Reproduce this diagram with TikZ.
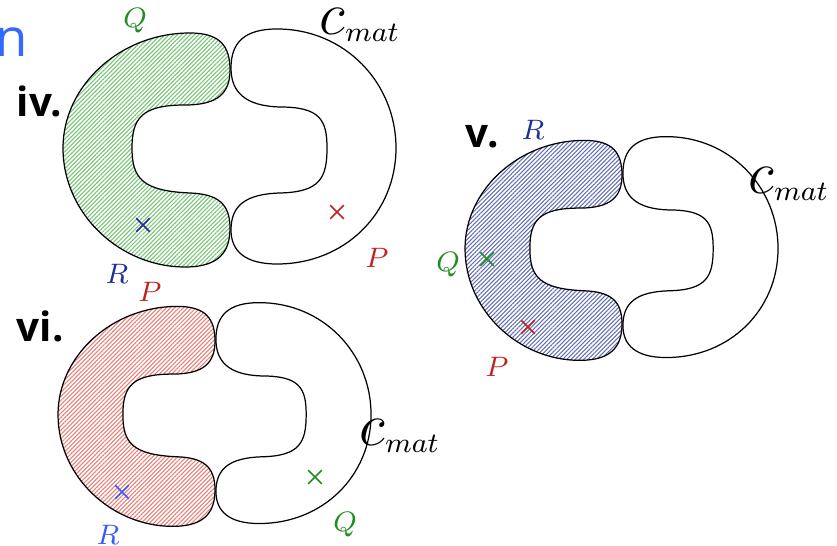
\documentclass[tikz,border=0pt]{standalone}
\usepackage{amsmath}
\usepackage{fontspec}
\usepackage{xcolor}
\usetikzlibrary{patterns.meta,shapes.misc}
\newfontfamily\labelfont{Open Sans}
\definecolor{cgreen}{RGB}{34,139,34}
\definecolor{cnavy}{RGB}{35,45,150}
\definecolor{cred}{RGB}{190,35,30}
\definecolor{cblue}{RGB}{60,90,250}
\definecolor{hgreen}{RGB}{115,195,115}
\definecolor{hnavy}{RGB}{100,110,180}
\definecolor{hred}{RGB}{232,125,115}
\definecolor{titleblue}{RGB}{50,105,255}
\newcommand{\cmat}{$\mbox{\fontsize{16}{18}\selectfont$c$}_{mat}$}
% left half of the ring, around the centre (0,0)
\newcommand{\leftlobe}{(0,0.78) .. controls (0,1.02) and (-0.1,1.15) .. (-0.4,1.15)
  .. controls (-1.1,1.15) and (-1.67,0.62) .. (-1.67,0)
  .. controls (-1.67,-0.66) and (-1.1,-1.19) .. (-0.45,-1.19)
  .. controls (-0.1,-1.19) and (0,-1.03) .. (0,-0.8)
  .. controls (0,-0.56) and (-0.12,-0.46) .. (-0.4,-0.45)
  .. controls (-0.88,-0.43) and (-0.98,-0.3) .. (-0.98,0)
  .. controls (-0.98,0.3) and (-0.88,0.43) .. (-0.45,0.43)
  .. controls (-0.12,0.43) and (0,0.55) .. (0,0.78) -- cycle}
% right half of the ring
\newcommand{\rightlobe}{(0.01,0.8) .. controls (0.01,1.06) and (0.15,1.19) .. (0.47,1.19)
  .. controls (1.15,1.19) and (1.66,0.65) .. (1.66,0)
  .. controls (1.66,-0.65) and (1.15,-1.16) .. (0.47,-1.16)
  .. controls (0.15,-1.16) and (0.01,-1.03) .. (0.01,-0.82)
  .. controls (0.01,-0.58) and (0.15,-0.46) .. (0.5,-0.45)
  .. controls (0.9,-0.44) and (0.97,-0.3) .. (0.97,0)
  .. controls (0.97,0.28) and (0.9,0.41) .. (0.5,0.41)
  .. controls (0.15,0.42) and (0.01,0.56) .. (0.01,0.8) -- cycle}
\tikzset{
  outline/.style={draw=black, line width=0.35pt},
  hatch/.style={pattern={Lines[angle=45,distance=0.85pt,line width=0.3pt]}, pattern color=#1},
  lab/.style={inner sep=0pt, font=\fontsize{8.5}{10}\selectfont},
  matlab/.style={inner sep=0pt, font=\fontsize{12}{14}\selectfont},
  numlab/.style={inner sep=0pt, anchor=base west, font=\labelfont\bfseries\fontsize{11.5}{13}\selectfont},
  xmark/.style={cross out, draw=#1, line width=0.45pt, inner sep=0pt, minimum size=0.12cm}
}

\begin{document}
\begin{tikzpicture}
    \useasboundingbox (0,0) rectangle (8.37,-5.46);
    \clip (0,0) rectangle (8.37,-5.46);

    \node[anchor=base west, inner sep=0pt, text=titleblue, font=\labelfont\fontsize{15}{17}\selectfont] (ttl) at (-0.05,-0.57) {n};

    % iv.
    \begin{scope}[shift={(2.30,-1.48)}]
        \draw[outline, hatch=hgreen] \leftlobe;
        \draw[outline] \rightlobe;
    \end{scope}
    \node[numlab] (iv) at (0.16,-1.17) {iv.};
    \node[lab, text=cgreen] (Qiv) at (1.35,-0.21) {$Q$};
    \node[matlab] (Civ) at (3.60,-0.25) {\cmat};
    \node[lab, text=cnavy] (Riv) at (1.17,-2.74) {$R$};
    \node[lab, text=cred] (Piv) at (3.77,-2.58) {$P$};
    \node[xmark=cnavy] (xRiv) at (1.43,-2.25) {};
    \node[xmark=cred] (xPiv) at (3.37,-2.12) {};

    % v.
    \begin{scope}[shift={(6.22,-2.485)}, scale=0.94]
        \draw[outline, hatch=hnavy] \leftlobe;
        \draw[outline] \rightlobe;
    \end{scope}
    \node[numlab] (v) at (4.65,-1.48) {v.};
    \node[lab, text=cnavy] (Rv) at (5.33,-1.30) {$R$};
    \node[matlab] (Cv) at (7.89,-1.84) {\cmat};
    \node[lab, text=cgreen] (Qv) at (4.48,-2.65) {$Q$};
    \node[lab, text=cred] (Pv) at (4.97,-3.67) {$P$};
    \node[xmark=cgreen] (xQv) at (4.87,-2.59) {};
    \node[xmark=cred] (xPv) at (5.28,-3.27) {};

    % vi.
    \begin{scope}[shift={(2.15,-4.145)}, scale=0.94]
        \draw[outline, hatch=hred] \leftlobe;
        \draw[outline] \rightlobe;
    \end{scope}
    \node[numlab] (vi) at (0.16,-3.42) {vi.};
    \node[lab, text=cred] (Pvi) at (1.50,-2.92) {$P$};
    \node[matlab] (Cvi) at (4.00,-4.36) {\cmat};
    \node[lab, text=cgreen] (Qvi) at (3.45,-5.25) {$Q$};
    \node[lab, text=cblue] (Rvi) at (1.08,-5.35) {$R$};
    \node[xmark=cgreen] (xQvi) at (3.15,-4.77) {};
    \node[xmark=cblue] (xRvi) at (1.22,-4.92) {};
\end{tikzpicture}
\end{document}
